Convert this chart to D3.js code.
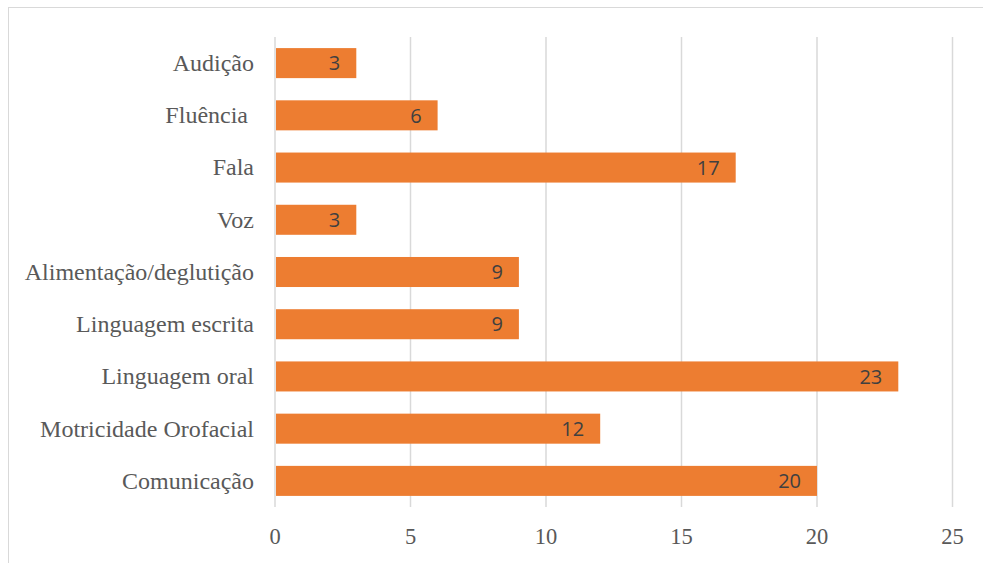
<!DOCTYPE html>
<html>
<head>
<meta charset="utf-8">
<script src="https://cdn.jsdelivr.net/npm/d3@7"></script>
<style>
  body { margin: 0; background: #fff; }
  svg { display: block; }
</style>
</head>
<body>
<div id="chart"></div>
<script>
// chart data
const categories = ["Audição", "Fluência ", "Fala", "Voz", "Alimentação/deglutição",
                    "Linguagem escrita", "Linguagem oral", "Motricidade Orofacial", "Comunicação"];
const values = [3, 6, 17, 3, 9, 9, 23, 12, 20];
const xTicks = [0, 5, 10, 15, 20, 25];

// frame size
const FRAME_WIDTH = 983;
const FRAME_HEIGHT = 563;
const PLOT = {left: 275, right: 952.5, top: 37, bottom: 507};

const svg = d3.select("#chart")
              .append("svg")
                .attr("width", FRAME_WIDTH)
                .attr("height", FRAME_HEIGHT);

// outer border (chart area runs off the right and bottom)
svg.append("rect")
     .attr("x", 8.5)
     .attr("y", 7.5)
     .attr("width", 1000)
     .attr("height", 600)
     .attr("fill", "none")
     .attr("stroke", "#d9d9d9")
     .attr("stroke-width", 1);

const x = d3.scaleLinear()
            .domain([0, 25])
            .range([PLOT.left, PLOT.right]);

const y = d3.scaleBand()
            .domain(categories)
            .range([PLOT.top, PLOT.bottom])
            .paddingInner(0.425)
            .paddingOuter(0.2125);

// vertical gridlines
svg.append("g")
   .selectAll("line")
   .data(xTicks)
   .enter()
   .append("line")
     .attr("x1", (d) => x(d))
     .attr("x2", (d) => x(d))
     .attr("y1", PLOT.top)
     .attr("y2", PLOT.bottom)
     .attr("stroke", "#d9d9d9")
     .attr("stroke-width", 1.5);

// x tick labels
svg.append("g")
   .selectAll("text")
   .data(xTicks)
   .enter()
   .append("text")
     .attr("x", (d) => x(d))
     .attr("y", 544)
     .attr("text-anchor", "middle")
     .attr("font-family", "'Liberation Serif', 'Times New Roman', serif")
     .attr("font-size", 22.5)
     .attr("fill", "#595959")
     .text((d) => d);

// category labels
svg.append("g")
   .selectAll("text")
   .data(categories)
   .enter()
   .append("text")
     .attr("x", PLOT.left - 21)
     .attr("y", (d) => y(d) + y.bandwidth() / 2)
     .attr("dy", "0.33em")
     .attr("text-anchor", "end")
     .attr("font-family", "'Liberation Serif', 'Times New Roman', serif")
     .attr("font-size", 24)
     .attr("fill", "#595959")
     .style("white-space", "pre")
     .text((d) => d);

// bars
svg.append("g")
   .selectAll("rect")
   .data(values)
   .enter()
   .append("rect")
     .attr("x", x(0) + 1)
     .attr("y", (d, i) => y(categories[i]))
     .attr("width", (d) => x(d) - x(0) - 1)
     .attr("height", y.bandwidth())
     .attr("fill", "#ed7d31");

// value labels inside bar ends
svg.append("g")
   .selectAll("text")
   .data(values)
   .enter()
   .append("text")
     .attr("x", (d) => x(d) - 16)
     .attr("y", (d, i) => y(categories[i]) + y.bandwidth() / 2)
     .attr("dy", "0.36em")
     .attr("text-anchor", "end")
     .attr("font-family", "'Open Sans', 'Noto Sans', sans-serif")
     .attr("font-size", 20)
     .attr("fill", "#404040")
     .text((d) => d);
</script>
</body>
</html>
